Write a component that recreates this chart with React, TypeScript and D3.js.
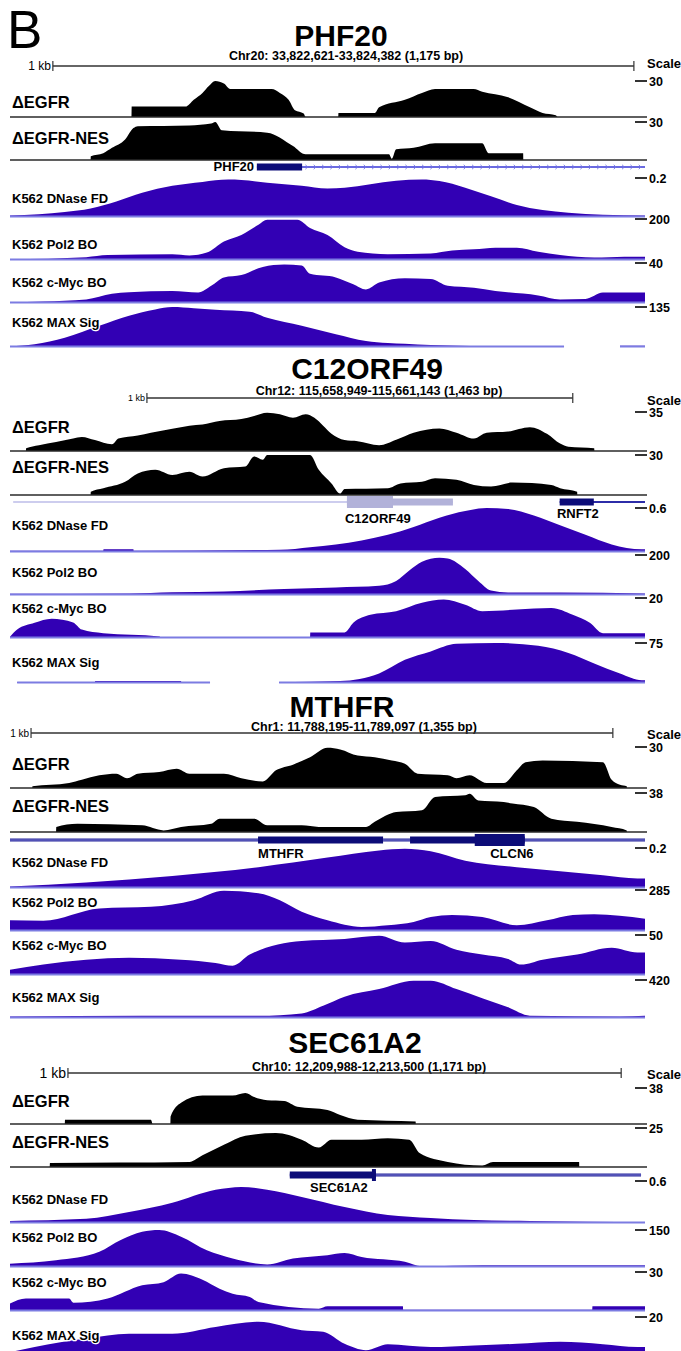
import React from "react";
import * as d3 from "d3";

// [bin, % of view limit]; bins 0..160 span the browser window, null = no data
type Pt = [number, number | null];

const trackNames = ["ΔEGFR", "ΔEGFR-NES", "K562 DNase FD", "K562 Pol2 BO", "K562 c-Myc BO", "K562 MAX Sig"];
const panelTitles = ["PHF20", "C12ORF49", "MTHFR", "SEC61A2"];
const panelCoords = [
  "Chr20: 33,822,621-33,824,382 (1,175 bp)",
  "Chr12: 115,658,949-115,661,143 (1,463 bp)",
  "Chr1: 11,788,195-11,789,097 (1,355 bp)",
  "Chr10: 12,209,988-12,213,500 (1,171 bp)",
];
const viewLimits = [
  ["30", "30", "0.2", "200", "40", "135"],
  ["35", "30", "0.6", "200", "20", "75"],
  ["30", "38", "0.2", "285", "50", "420"],
  ["38", "25", "0.6", "150", "30", "20"],
];

// ---- PHF20
const phf20Egfr: Pt[] = [[0,0],[30.6,0],[30.6,29],[44.2,29],[46.3,48],[48.5,67],[50.1,86],[51.7,100],[53.9,93],[55.5,78],[65.9,78],[68,67],[70.2,48],[71.8,19],[74,10],[74.5,0],[82.7,0],[82.7,11],[91.9,11],[93,27],[99.5,48],[103.8,67],[107.1,78],[116.8,78],[119,70],[125.5,55],[131,27],[134.2,11],[137.5,5],[138,0],[160,0]];
const phf20Nes: Pt[] = [[0,0],[20.3,0],[20.3,10],[23.5,18],[25.7,32],[29,54],[31.1,84],[32.2,89],[45.2,91],[50.7,96],[51.7,100],[53.4,78],[64.8,72],[71.3,37],[74.5,15],[95.5,15],[96.2,3],[97.3,28],[101.7,32],[107.1,44],[119,44],[120.6,18],[129.3,18],[129.3,0],[160,0]];
const phf20Dnase: Pt[] = [[0,4],[7.3,7],[13.8,13],[20.3,22],[26.8,40],[33.3,62],[40.9,80],[48.5,90],[55,96],[58.3,95],[64.8,88],[73.5,80],[80,73],[84.3,75],[90.8,84],[97.3,93],[103.8,96],[108.2,92],[114.7,75],[121.2,53],[127.7,31],[134.2,18],[140.7,11],[149.4,6],[160,4]];
const phf20Pol2: Pt[] = [[0,2],[19.2,7],[24.6,12],[40.9,14],[45.2,11],[49.6,18],[53.9,45],[58.3,61],[62.6,86],[64.8,98],[72.4,98],[75.6,78],[80,61],[84.3,31],[87.6,20],[95.2,14],[106,16],[111.4,23],[116.9,26],[122.3,30],[127.7,30],[133.1,20],[138.6,12],[147.2,6],[154.8,8],[160,8]];
const phf20Myc: Pt[] = [[0,2],[8.4,4],[19.2,9],[25.7,23],[30,27],[40.9,30],[47.4,26],[50.7,43],[53.9,64],[58.3,70],[63.7,90],[69.1,96],[73.5,94],[75.6,73],[82.1,64],[86.5,47],[89.7,34],[93,51],[99.5,62],[106,60],[110.3,43],[116.9,38],[122.3,30],[133.1,19],[138.6,9],[145,10],[149.4,26],[160,26]];
const phf20Max: Pt[] = [[0,2],[6.2,7],[13.8,23],[22.5,53],[30,78],[36.6,94],[40.9,100],[46.3,97],[51.8,93],[60.4,88],[64.8,73],[73.5,53],[82.1,32],[89.7,15],[95.2,10],[99.5,8],[106,5],[126.6,2],[139.6,2],[139.7,null],[153.6,null],[153.7,3],[160,3]];

// ---- C12ORF49
const c12Egfr: Pt[] = [[0,0],[4,0],[4,7],[7.3,15],[11.6,23],[15.9,32],[18.1,36],[21.4,28],[25.7,17],[27.3,32],[32.2,40],[35.5,47],[40.9,57],[45.2,65],[48.5,68],[52.8,77],[58.3,82],[61.5,90],[64.8,98],[68,94],[71.3,85],[74.5,94],[76.7,85],[78.9,65],[81,44],[84.3,28],[87.6,25],[93,15],[97.3,29],[101.7,47],[108.2,58],[112.5,47],[116.9,32],[120.1,47],[125.5,50],[131,61],[135.3,44],[138.6,19],[140.7,11],[147.2,7],[147.2,0],[160,0]];
const c12Nes: Pt[] = [[0,0],[20.3,0],[20.3,8],[23.5,17],[29,33],[32.2,54],[36.6,63],[40.9,50],[45.2,58],[48.5,46],[53.9,67],[59.3,71],[61.5,96],[63.7,88],[64.8,100],[75.6,100],[77.8,63],[81,29],[83.2,4],[84.3,15],[95.2,17],[98.4,29],[103.8,33],[107.1,42],[112.5,38],[116.9,25],[121.2,21],[126.6,31],[136.4,25],[138.6,17],[142.9,8],[142.9,0],[160,0]];
const c12Dnase: Pt[] = [[0,3],[23.5,3],[23.5,6],[31.1,6],[31.1,3],[68,5],[75.6,11],[82.1,17],[88.6,26],[95.2,39],[101.7,57],[108.2,78],[114.7,93],[120.1,100],[125.5,98],[132,83],[138.6,61],[145,39],[151.6,17],[159.2,6],[160,6]];
const c12Pol2: Pt[] = [[0,3],[30,4],[40.9,7],[53.9,9],[69.1,15],[82.1,19],[93,23],[97.3,35],[100.6,61],[103.8,83],[108.2,93],[110.3,91],[114.7,65],[118,35],[121.2,11],[125.5,6],[138.6,6],[160,4]];
const c12Myc: Pt[] = [[0,3],[1.8,21],[6.2,38],[10.5,48],[15.9,39],[18.1,21],[23.5,12],[37.7,4],[38,2],[75.6,2],[75.6,14],[84.3,14],[86.5,38],[90.8,58],[97.3,67],[103.8,88],[109.3,96],[114.7,83],[119,67],[127.7,71],[136.4,75],[141.8,58],[146.1,38],[149.4,12],[160,12]];
const c12Max: Pt[] = [[1.8,2],[21.4,2],[21.4,5],[43.1,5],[43.1,2],[50.4,2],[50.5,null],[67.7,null],[67.8,2],[83.2,5],[93,24],[99.5,58],[106,79],[112.5,98],[122.3,100],[133.1,93],[140.7,75],[147.2,49],[153.7,24],[159.2,7],[160,7]];

// ---- MTHFR
const mthfrEgfr: Pt[] = [[0,0],[5.6,0],[5.6,4],[14.9,12],[18.1,20],[22.5,31],[26.8,35],[29.5,24],[32.2,35],[37.6,39],[42,47],[45.2,35],[53.9,35],[58.3,24],[63.7,16],[67,43],[71.3,57],[75.6,75],[80,98],[83.2,94],[87.6,79],[91.9,75],[96.2,67],[99.5,59],[102.7,35],[110.3,31],[112.5,24],[115.8,31],[120.1,12],[124.4,12],[127.7,43],[129.9,63],[134.2,67],[149.4,63],[151.6,20],[153.7,8],[155.4,4],[155.4,0],[160,0]];
const mthfrNes: Pt[] = [[0,0],[11.6,0],[11.6,13],[17,21],[33.3,17],[38.7,4],[43.1,13],[50.7,21],[52.8,34],[61.5,34],[64.8,17],[73.5,17],[77.8,13],[89.7,13],[91.9,26],[97.3,51],[103.8,56],[107.1,90],[114.7,94],[115.8,98],[118,81],[124.4,77],[126.6,73],[132,64],[136.4,34],[142.9,26],[151.6,13],[155.4,4],[155.4,0],[160,0]];
const mthfrDnase: Pt[] = [[0,4],[19.2,14],[40.9,30],[62.6,52],[80,76],[93,94],[99.5,98],[106,92],[114.7,68],[127.7,52],[138.6,42],[149.4,32],[158.1,24],[160,24]];
const mthfrPol2: Pt[] = [[0,26],[8.4,25],[22.5,55],[35.5,59],[46.3,75],[53.9,98],[62.6,92],[68,75],[73.5,47],[80,26],[88.6,10],[95.2,14],[101.7,22],[106,34],[111.4,39],[119,34],[127.7,14],[135.3,26],[141.8,39],[147.2,41],[160,30]];
const mthfrMyc: Pt[] = [[0,13],[8.4,26],[30,43],[43.1,38],[51.8,30],[56.1,23],[60.4,51],[73.5,85],[84.3,90],[93,98],[99.5,81],[106,85],[112.5,63],[119,51],[125.5,40],[128.8,26],[134.2,38],[142.9,51],[151.6,68],[158.1,56],[160,56]];
const mthfrMax: Pt[] = [[0,4],[33.3,6],[62.6,6],[73.5,12],[78.9,32],[84.3,56],[93,76],[101.7,98],[106,98],[112.5,76],[119,52],[125.5,28],[131,6],[153.7,4],[160,6]];

// ---- SEC61A2
const secEgfr: Pt[] = [[0,0],[13.8,0],[13.8,12],[35.5,12],[36,0],[40.4,0],[40.4,21],[43.1,59],[48.5,79],[56.1,79],[59.3,86],[61.5,75],[64.8,66],[69.1,64],[72.4,48],[80,39],[83.2,25],[87.6,12],[102.2,7],[102.2,0],[160,0]];
const secNes: Pt[] = [[0,0],[10,0],[10,10],[45.2,13],[48.5,30],[53.9,57],[59.3,80],[67,87],[73.5,70],[77.8,50],[81,70],[88.6,70],[95.2,74],[100.6,70],[103.3,35],[110.3,13],[119,4],[121.7,13],[143.4,13],[143.4,0],[160,0]];
const secDnase: Pt[] = [[0,5],[19.2,10],[30,26],[40.9,48],[51.8,79],[58.3,86],[64.8,79],[73.5,62],[84.3,38],[95.2,19],[106,12],[116.9,7],[131,5],[160,2]];
const secPol2: Pt[] = [[0,9],[11.6,18],[22.5,41],[27.9,73],[33.3,95],[37.6,100],[43.1,82],[49.6,45],[56.1,23],[64.8,7],[71.3,23],[80,32],[84.3,38],[88.6,27],[99.5,14],[103.8,2],[119,5],[160,5]];
const secMyc: Pt[] = [[0,19],[4,32],[14.9,32],[16,21],[24.6,32],[33.3,66],[38.7,74],[43.1,96],[48.5,80],[52.8,57],[56.1,44],[60.4,36],[62.6,23],[77.8,6],[80,12],[99,12],[99,3],[146.7,3],[146.7,12],[160,12]];
const secMax: Pt[] = [[0,12],[6.2,25],[19.2,46],[30,58],[40.9,58],[51.8,75],[62.6,88],[73.5,67],[78.9,63],[84.3,33],[89.7,17],[95.2,32],[106,25],[116.9,29],[127.7,33],[138.6,38],[149.4,32],[158.1,25],[160,25]];

const panelTracks: Pt[][][] = [
  [phf20Egfr, phf20Nes, phf20Dnase, phf20Pol2, phf20Myc, phf20Max],
  [c12Egfr, c12Nes, c12Dnase, c12Pol2, c12Myc, c12Max],
  [mthfrEgfr, mthfrNes, mthfrDnase, mthfrPol2, mthfrMyc, mthfrMax],
  [secEgfr, secNes, secDnase, secPol2, secMyc, secMax],
];

// gene models in bins: transcript, exon, coding part
type Gene = { name: string; tx: [number, number]; exon: [number, number]; cds: [number, number] | null; faded?: boolean };
const panelGenes: Gene[][] = [
  [{ name: "PHF20", tx: [62.2, 160], exon: [62.2, 73.6], cds: null }],
  [
    { name: "C12ORF49", tx: [0.8, 111.6], exon: [84.9, 111.6], cds: [84.9, 96.5], faded: true },
    { name: "RNFT2", tx: [138.5, 160], exon: [138.5, 147.1], cds: null },
  ],
  [
    { name: "MTHFR", tx: [0, 94], exon: [62.5, 94], cds: null },
    { name: "CLCN6", tx: [94, 160], exon: [100.8, 129.7], cds: [117.1, 129.7] },
  ],
  [{ name: "SEC61A2", tx: [70.5, 159], exon: [70.5, 92.2], cds: [91.2, 92.2] }],
];

// ---- layout (pixels)
const layouts = [
  {
    title: 46, titleX: 341, coord: 60, coordX: 346, scaleText: 68,
    bar: { y: 66, from: 10.8, to: 157.2, size: 12 },
    tracks: [[81, 117, 108], [122, 160, 144], [178, 217, 203], [219, 260, 249], [263, 303, 287], [307, 347, 327]],
    gene: 167, geneLabels: [{ bin: 61.5, y: 171, anchor: "end" }],
  },
  {
    title: 379, titleX: 367, coord: 395, coordX: 379, scaleText: 405,
    bar: { y: 398, from: 34.5, to: 141.8, size: 9 },
    tracks: [[412, 451, 433], [455, 495, 473], [508, 552, 530], [555, 595, 577], [598, 638, 613], [643, 683, 667]],
    gene: 502, geneLabels: [{ bin: 84.4, y: 523, anchor: "start" }, { bin: 137.8, y: 518, anchor: "start" }],
  },
  {
    title: 717, titleX: 342, coord: 731, coordX: 364, scaleText: 739,
    bar: { y: 733, from: 5.3, to: 151.9, size: 10 },
    tracks: [[747, 788, 770], [793, 832, 812], [848, 888, 867], [890, 931, 907], [935, 975, 950], [980, 1018, 1002]],
    gene: 840, geneLabels: [{ bin: 62.5, y: 858, anchor: "start" }, { bin: 121, y: 858, anchor: "start" }],
  },
  {
    title: 1053, titleX: 355, coord: 1071, coordX: 369, scaleText: 1079,
    bar: { y: 1073, from: 14.6, to: 154, size: 14 },
    tracks: [[1088, 1124, 1107], [1128, 1167, 1148], [1181, 1223, 1204], [1230, 1267, 1242], [1272, 1311, 1287], [1317, 1357, 1340]],
    gene: 1175, geneLabels: [{ bin: 75.6, y: 1192, anchor: "start" }],
  },
];

const W = 681;
const H = 1351;
const FONT = "'Liberation Sans', Arial, Helvetica, sans-serif";
const BLUE = "#3200b4";
const BLUE_EDGE = "#7c7ce2";
const NAVY = "#0c0c78";
const FADED = "#b2b2d9";

const x = d3.scaleLinear().domain([0, 160]).range([10, 645]);

// monotone curve needs strictly increasing x: push vertical steps apart a hair
function spread(pts: Pt[]): Pt[] {
  let last = -Infinity;
  return pts.map((p) => {
    const bx = p[0] <= last ? last + 0.06 : p[0];
    last = bx;
    return [bx, p[1]] as Pt;
  });
}

function Track({ pts, top, base, black }: { pts: Pt[]; top: number; base: number; black: boolean }) {
  const y = d3.scaleLinear().domain([0, 100]).range([base, top]).clamp(true);
  const data = spread(pts);
  const area = d3
    .area<Pt>()
    .defined((d) => d[1] !== null)
    .curve(d3.curveMonotoneX)
    .x((d) => x(d[0]))
    .y0(base)
    .y1((d) => y(d[1] as number));
  const edge = d3
    .line<Pt>()
    .defined((d) => d[1] !== null)
    .x((d) => x(d[0]))
    .y(base - 0.5);
  return (
    <g>
      <path d={area(data) || ""} fill={black ? "#000" : BLUE} />
      {black ? (
        <line x1={x(0)} x2={x(160) + 2} y1={base} y2={base} stroke="#2a2a2a" strokeWidth={1.6} />
      ) : (
        <path d={edge(data) || ""} fill="none" stroke={BLUE_EDGE} strokeWidth={2} />
      )}
    </g>
  );
}

function GeneModel({ g, cy, double }: { g: Gene; cy: number; double: boolean }) {
  const color = g.faded ? FADED : NAVY;
  const lineColor = g.faded ? "#bcbce8" : g.name === "PHF20" ? "#6a6ae0" : "#2c2ca8";
  const chevrons = g.name === "PHF20" ? d3.range(g.exon[1] + 1.2, g.tx[1], 2.1) : [];
  return (
    <g>
      {double ? (
        <g>
          <line x1={x(g.tx[0])} x2={x(g.tx[1])} y1={cy} y2={cy} stroke="#24249c" strokeWidth={3.2} />
          <line x1={x(g.tx[0])} x2={x(g.tx[1])} y1={cy} y2={cy} stroke="#8a8ad8" strokeWidth={0.9} />
        </g>
      ) : (
        <line x1={x(g.tx[0])} x2={x(g.tx[1])} y1={cy} y2={cy} stroke={lineColor} strokeWidth={g.faded ? 1.4 : 1.8} />
      )}
      {chevrons.map((b, i) => (
        <path key={i} d={`M${x(b) - 1.5},${cy - 2.2}L${x(b) + 0.8},${cy}L${x(b) - 1.5},${cy + 2.2}`} fill="none" stroke="#7474e4" strokeWidth={0.9} />
      ))}
      <rect x={x(g.exon[0])} y={cy - 3.5} width={x(g.exon[1]) - x(g.exon[0])} height={7} fill={color} />
      {g.cds && <rect x={x(g.cds[0])} y={cy - 6} width={x(g.cds[1]) - x(g.cds[0])} height={12} fill={color} />}
    </g>
  );
}

function Panel({ idx }: { idx: number }) {
  const L = layouts[idx];
  return (
    <g fontFamily={FONT}>
      <text x={L.titleX} y={L.title} textAnchor="middle" fontSize={30} fontWeight="bold">{panelTitles[idx]}</text>
      <text x={L.coordX} y={L.coord} textAnchor="middle" fontSize={12.5} fontWeight="bold">{panelCoords[idx]}</text>
      <text x={x(L.bar.from) - 2} y={L.bar.y + L.bar.size * 0.36} textAnchor="end" fontSize={L.bar.size}>1 kb</text>
      <line x1={x(L.bar.from)} x2={x(L.bar.to)} y1={L.bar.y} y2={L.bar.y} stroke="#333" strokeWidth={1.3} />
      <line x1={x(L.bar.from)} x2={x(L.bar.from)} y1={L.bar.y - 5} y2={L.bar.y + 5} stroke="#333" strokeWidth={1.2} />
      <line x1={x(L.bar.to)} x2={x(L.bar.to)} y1={L.bar.y - 5} y2={L.bar.y + 5} stroke="#333" strokeWidth={1.2} />
      <text x={647} y={L.scaleText} fontSize={13} fontWeight="bold">Scale</text>
      {panelTracks[idx].map((pts, t) => {
        const [top, base, labelY] = L.tracks[t];
        return (
          <g key={t}>
            <Track pts={pts} top={top} base={base} black={t < 2} />
            <line x1={635} x2={647} y1={top} y2={top} stroke="#000" strokeWidth={1.6} />
            <text x={649} y={top + 4.5} fontSize={12.5} fontWeight="bold">{viewLimits[idx][t]}</text>
            <text
              x={12}
              y={labelY}
              fontSize={t < 2 ? 16.5 : 13}
              fontWeight="bold"
              stroke="#fff"
              strokeWidth={2.5}
              paintOrder="stroke"
              strokeLinejoin="round"
            >
              {trackNames[t]}
            </text>
          </g>
        );
      })}
      {panelGenes[idx].map((g, i) => (
        <GeneModel key={i} g={g} cy={L.gene} double={idx >= 2} />
      ))}
      {panelGenes[idx].map((g, i) => {
        const gl = L.geneLabels[i];
        return (
          <text key={"l" + i} x={x(gl.bin)} y={gl.y} textAnchor={gl.anchor as "start" | "end"} fontSize={13} fontWeight="bold">
            {g.name}
          </text>
        );
      })}
    </g>
  );
}

export default function App() {
  return (
    <svg width={W} height={H} style={{ position: "absolute", left: 0, top: 0, background: "#fff" }}>
      <rect width={W} height={H} fill="#fff" />
      <text x={7} y={48} fontFamily={FONT} fontSize={53}>B</text>
      {layouts.map((_, i) => (
        <Panel key={i} idx={i} />
      ))}
    </svg>
  );
}
